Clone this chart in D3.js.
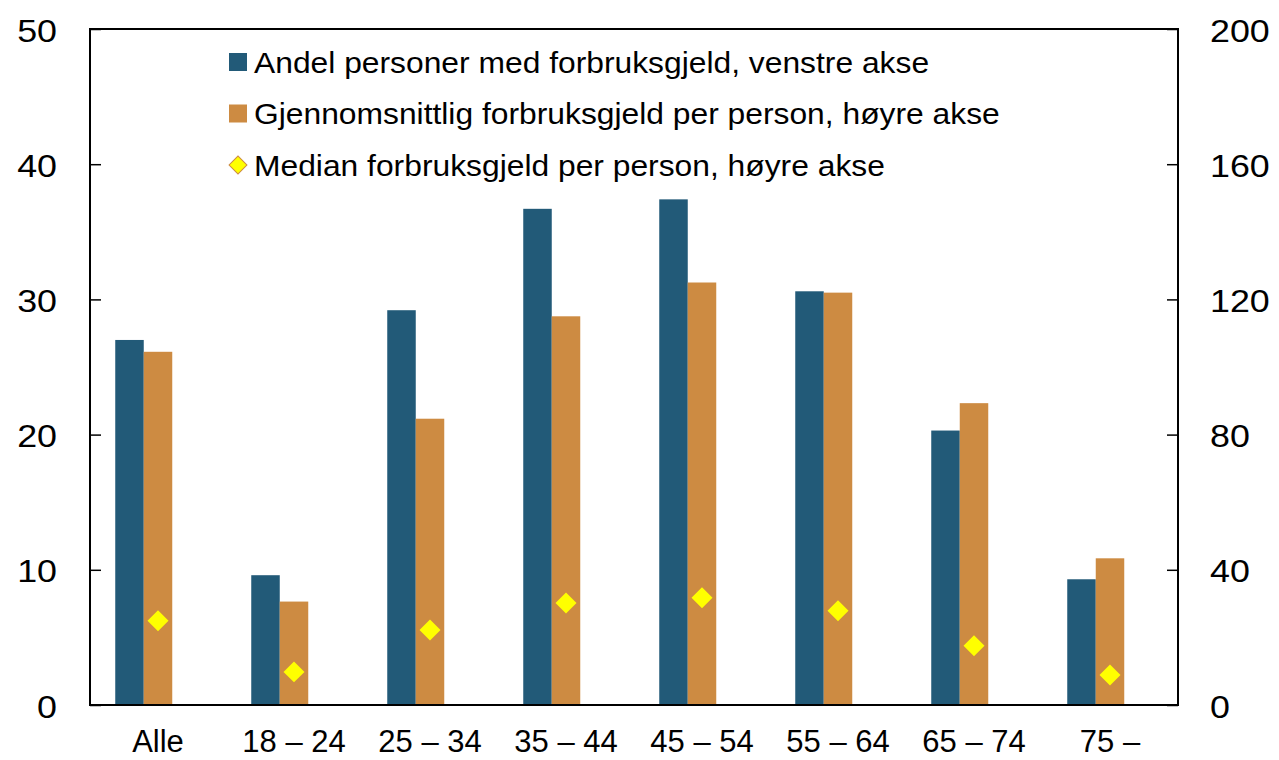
<!DOCTYPE html>
<html>
<head>
<meta charset="utf-8">
<script src="https://cdn.jsdelivr.net/npm/d3@7"></script>
<style>
  body { margin: 0; background: #fff; }
  svg { display: block; font-family: "Liberation Sans", Arial, sans-serif; }
</style>
</head>
<body>
<div id="chart"></div>
<script>
// DATA
const categories = ["Alle", "18 \u2013 24", "25 \u2013 34", "35 \u2013 44", "45 \u2013 54", "55 \u2013 64", "65 \u2013 74", "75 \u2013"];
const andel = [27.0, 9.6, 29.2, 36.7, 37.4, 30.6, 20.3, 9.3];          // venstre akse
const gjennomsnitt = [104.5, 30.6, 84.7, 115.0, 125.0, 122.0, 89.3, 43.4]; // høyre akse
const median = [24.9, 9.8, 22.2, 30.2, 31.7, 27.9, 17.5, 8.9];          // høyre akse
const leftTicks = [0, 10, 20, 30, 40, 50];
const rightTicks = [0, 40, 80, 120, 160, 200];
const seriesNames = [
    "Andel personer med forbruksgjeld, venstre akse",
    "Gjennomsnittlig forbruksgjeld per person, høyre akse",
    "Median forbruksgjeld per person, høyre akse"
];

// SETUP
const W = 1279, H = 760;
const margin = { top: 29, right: 101, bottom: 55, left: 90 };
const width = W - margin.left - margin.right;
const height = H - margin.top - margin.bottom;

const colBlue = "#225a78", colOrange = "#cd8b42", colYellow = "#ffff00";

const svg = d3.select("#chart").append("svg")
    .attr("width", W)
    .attr("height", H);
const g = svg.append("g")
    .attr("transform", `translate(${margin.left},${margin.top})`);

// SCALES
const x = d3.scaleBand()
    .domain(categories)
    .range([0, width])
    .padding(0);
const barW = 28.5;

const yLeft = d3.scaleLinear().domain([0, 50]).range([height, 0]);
const yRight = d3.scaleLinear().domain([0, 200]).range([height, 0]);

// BARS
const center = c => x(c) + x.bandwidth() / 2;

g.selectAll(".bar-blue")
    .data(categories)
    .enter().append("rect")
    .attr("x", (d) => center(d) - 1.5 * barW)
    .attr("y", (d, i) => yLeft(andel[i]))
    .attr("width", barW)
    .attr("height", (d, i) => height - yLeft(andel[i]))
    .attr("fill", colBlue);

g.selectAll(".bar-orange")
    .data(categories)
    .enter().append("rect")
    .attr("x", (d) => center(d) - 0.5 * barW)
    .attr("y", (d, i) => yRight(gjennomsnitt[i]))
    .attr("width", barW)
    .attr("height", (d, i) => height - yRight(gjennomsnitt[i]))
    .attr("fill", colOrange);

// median diamonds
const diamond = d3.symbol().type(d3.symbolSquare).size(220);
g.selectAll(".med")
    .data(categories)
    .enter().append("path")
    .attr("d", diamond)
    .attr("transform", (d, i) => `translate(${center(d)},${yRight(median[i])}) rotate(45)`)
    .attr("fill", colYellow);

// AXES
const axL = g.append("g")
    .call(d3.axisRight(yLeft).tickValues(leftTicks).tickSize(11).tickFormat(""));
const axR = g.append("g")
    .attr("transform", `translate(${width},0)`)
    .call(d3.axisLeft(yRight).tickValues(rightTicks).tickSize(11).tickFormat(""));
[axL, axR].forEach(a => {
    a.select(".domain").remove();
    a.selectAll("line").attr("stroke", "#000").attr("stroke-width", 1.5);
});

// frame
g.append("rect")
    .attr("x", 0).attr("y", 0)
    .attr("width", width).attr("height", height)
    .attr("fill", "none")
    .attr("stroke", "#000")
    .attr("stroke-width", 2);

// tick labels (text in the original is a bit wider than Liberation, so stretch slightly)
g.selectAll(".lt")
    .data(leftTicks)
    .enter().append("text")
    .attr("transform", d => `translate(-33,${yLeft(d) + 1}) scale(1.12,1)`)
    .attr("dy", "0.36em")
    .attr("text-anchor", "end")
    .attr("font-size", 32)
    .text(d => d);

g.selectAll(".rt")
    .data(rightTicks)
    .enter().append("text")
    .attr("transform", d => `translate(${width + 32},${yRight(d) + 1}) scale(1.12,1)`)
    .attr("dy", "0.36em")
    .attr("text-anchor", "start")
    .attr("font-size", 32)
    .text(d => d);

g.selectAll(".xt")
    .data(categories)
    .enter().append("text")
    .attr("x", d => center(d))
    .attr("y", height + 47)
    .attr("text-anchor", "middle")
    .attr("font-size", 31)
    .text(d => d);

// LEGEND
const legend = g.append("g")
    .attr("transform", `translate(${229 - margin.left},${62 - margin.top})`);
seriesNames.forEach((name, i) => {
    const row = legend.append("g").attr("transform", `translate(0,${i * 51.5})`);
    if (i < 2) {
        row.append("rect")
            .attr("x", 0).attr("y", -9)
            .attr("width", 18).attr("height", 18)
            .attr("fill", i === 0 ? colBlue : colOrange);
    } else {
        row.append("path")
            .attr("d", d3.symbol().type(d3.symbolSquare).size(160))
            .attr("transform", "translate(9,0) rotate(45)")
            .attr("fill", colYellow)
            .attr("stroke", colOrange)
            .attr("stroke-width", 1);
    }
    row.append("text")
        .attr("transform", "translate(25,0) scale(1.06,1)")
        .attr("dy", "0.36em")
        .attr("font-size", 30)
        .text(name);
});
</script>
</body>
</html>
